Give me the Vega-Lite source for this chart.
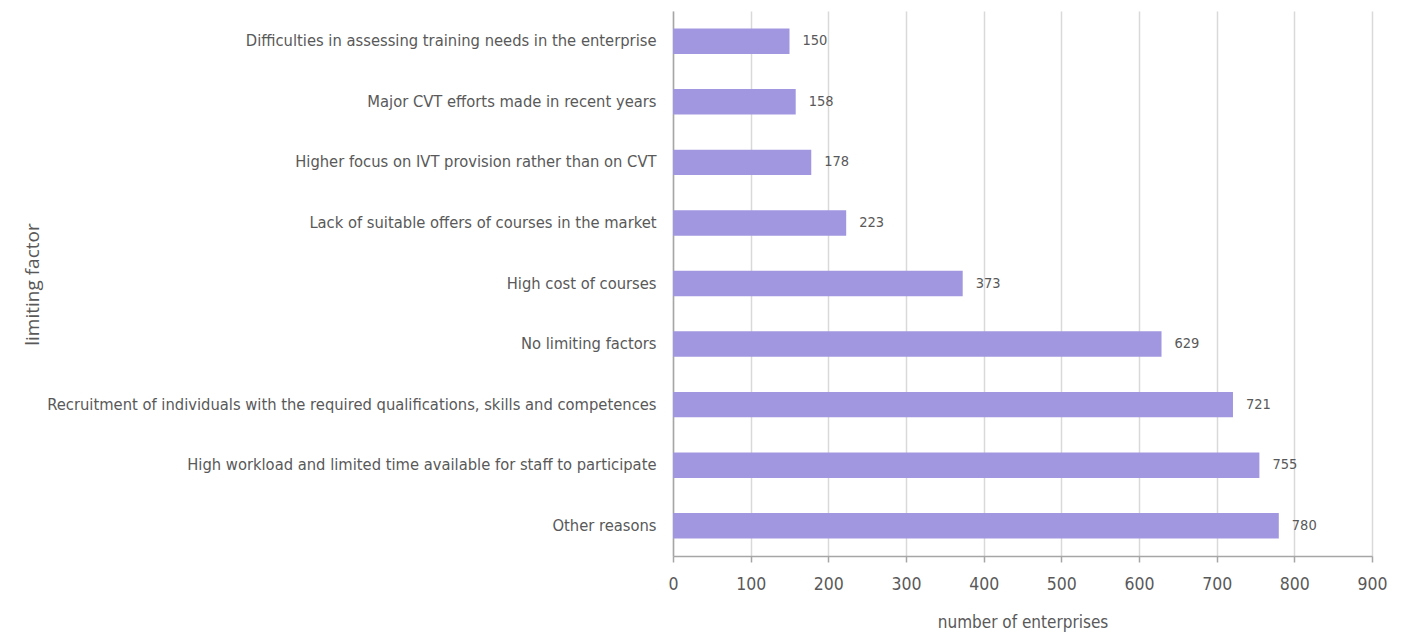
{
  "$schema": "https://vega.github.io/schema/vega-lite/v6.json",
  "autosize": {"type": "none"},
  "padding": {"left": 673, "top": 11, "right": 45, "bottom": 78},
  "width": 699,
  "height": 545,
  "background": "white",
  "config": {
    "view": {"stroke": null},
    "font": "DejaVu Sans Condensed, Roboto"
  },
  "data": {
    "values": [
      {"factor": "Difficulties in assessing training needs in the enterprise", "n": 150},
      {"factor": "Major CVT efforts made in recent years", "n": 158},
      {"factor": "Higher focus on IVT provision rather than on CVT", "n": 178},
      {"factor": "Lack of suitable offers of courses in the market", "n": 223},
      {"factor": "High cost of courses", "n": 373},
      {"factor": "No limiting factors", "n": 629},
      {"factor": "Recruitment of individuals with the required qualifications, skills and competences", "n": 721},
      {"factor": "High workload and limited time available for staff to participate", "n": 755},
      {"factor": "Other reasons", "n": 780}
    ]
  },
  "encoding": {
    "y": {
      "field": "factor", "type": "nominal", "sort": null,
      "scale": {"paddingInner": 0.58, "paddingOuter": 0.29},
      "axis": {
        "title": "limiting factor", "titleFont": "Open Sans", "titleFontWeight": "normal", "titleFontSize": 19, "titleColor": "#595959",
        "titleX": -641, "titleY": 273, "titleAngle": 270, "titleAlign": "center", "titleBaseline": "middle",
        "labelFontSize": 16.4, "labelColor": "#595959", "labelPadding": 17, "labelLimit": 700,
        "ticks": false, "domainColor": "#a6a6a6", "domainWidth": 1.5
      }
    }
  },
  "layer": [
    {
      "mark": {"type": "bar", "color": "#a197e0"},
      "encoding": {
        "x": {
          "field": "n", "type": "quantitative",
          "scale": {"domain": [0, 900], "nice": false},
          "axis": {
            "title": "number of  enterprises", "titleFontWeight": "normal", "titleFontSize": 17, "titleColor": "#595959", "titlePadding": 22,
            "values": [0,100,200,300,400,500,600,700,800,900],
            "labelFlush": false,
            "labelFontSize": 17.5, "labelColor": "#595959", "labelPadding": 13,
            "tickColor": "#a6a6a6", "tickSize": 6, "tickWidth": 1.5,
            "domainColor": "#a6a6a6", "domainWidth": 1.5,
            "grid": true, "gridColor": "#d9d9d9", "gridWidth": 1.5
          }
        }
      }
    },
    {
      "mark": {"type": "text", "align": "left", "baseline": "middle", "dx": 13, "fontSize": 14.5, "color": "#595959"},
      "encoding": {
        "x": {"field": "n", "type": "quantitative"},
        "text": {"field": "n", "type": "quantitative"}
      }
    }
  ]
}
